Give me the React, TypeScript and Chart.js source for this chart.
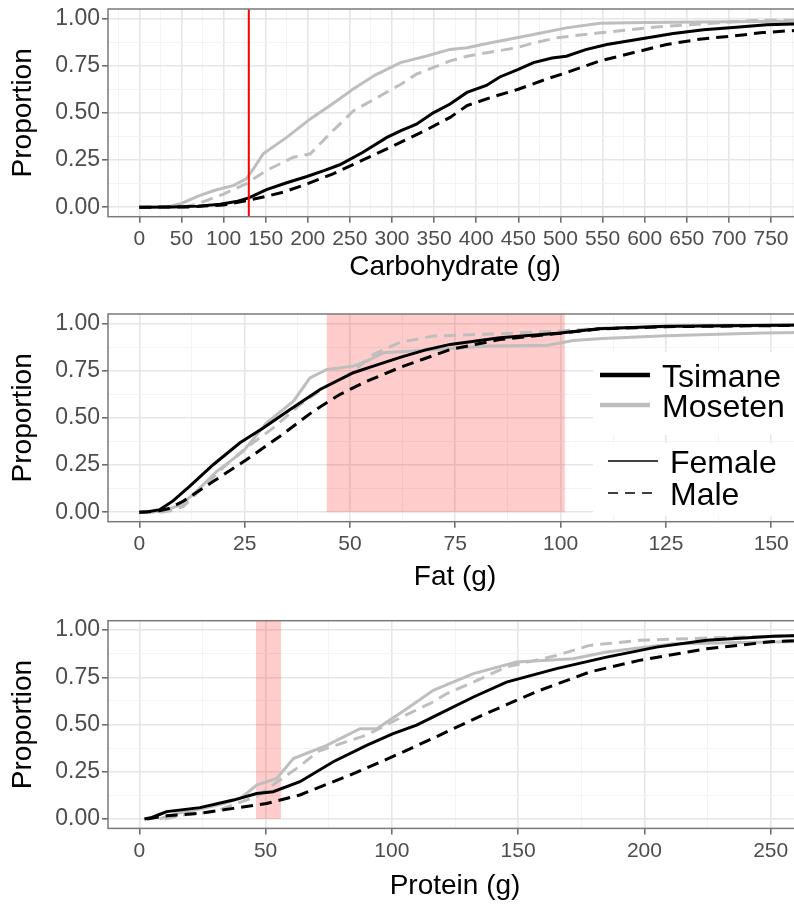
import React, { useEffect, useRef } from "react";
import { Chart, registerables } from "chart.js";
Chart.register(...registerables);

// ---------------- data (x in grams, y = cumulative proportion) ----------------
const carbTsimaneFemale = [[0,0],[40,0.002],[70,0.006],[96,0.016],[115,0.03],[130,0.05],[151,0.093],[175,0.13],[199,0.163],[220,0.195],[238,0.225],[265,0.29],[294,0.37],[310,0.405],[329,0.44],[349,0.5],[369,0.547],[389,0.608],[412,0.645],[428,0.69],[450,0.73],[468,0.766],[490,0.79],[507,0.8],[530,0.835],[555,0.862],[600,0.895],[634,0.92],[670,0.94],[705,0.952],[745,0.966],[790,0.972]];
const carbTsimaneMale = [[0,0],[60,0.002],[100,0.012],[129,0.037],[150,0.057],[171,0.08],[200,0.125],[230,0.177],[265,0.25],[298,0.318],[310,0.344],[341,0.41],[369,0.476],[389,0.538],[420,0.585],[450,0.625],[484,0.68],[507,0.713],[547,0.775],[586,0.818],[626,0.862],[665,0.89],[705,0.907],[740,0.925],[790,0.94]];
const carbMosetenFemale = [[32,0],[50,0.02],[72,0.063],[90,0.09],[112,0.116],[127,0.15],[135,0.2],[147,0.283],[175,0.37],[203,0.468],[230,0.55],[254,0.626],[280,0.7],[310,0.766],[340,0.8],[369,0.836],[389,0.845],[416,0.87],[468,0.915],[507,0.95],[547,0.975],[600,0.978],[700,0.982],[790,0.985]];
const carbMosetenMale = [[52,0],[70,0.02],[100,0.07],[127,0.125],[151,0.195],[183,0.265],[203,0.283],[230,0.406],[254,0.51],[290,0.6],[310,0.65],[329,0.705],[369,0.775],[389,0.8],[448,0.845],[468,0.87],[496,0.898],[547,0.924],[614,0.955],[680,0.975],[733,0.99],[790,0.99]];

const fatTsimaneFemale = [[0,0],[2,0.003],[4.9,0.014],[8,0.06],[12,0.138],[17.6,0.253],[23.9,0.368],[29.5,0.447],[35.8,0.544],[42.9,0.65],[50.8,0.739],[55,0.77],[61.9,0.82],[68,0.86],[73.8,0.889],[85.6,0.924],[100,0.95],[109,0.972],[125,0.985],[158,0.992]];
const fatTsimaneMale = [[0,0],[4,0.003],[7,0.02],[10.4,0.058],[17.6,0.164],[25.5,0.279],[33.4,0.403],[41.3,0.535],[47.6,0.624],[54,0.694],[61.9,0.767],[73.8,0.862],[85.6,0.915],[100,0.948],[109,0.97],[125,0.983],[158,0.99]];
const fatMosetenFemale = [[3,0],[6,0.01],[10,0.04],[14,0.12],[18.4,0.217],[24.7,0.323],[30.2,0.474],[36.6,0.588],[40.5,0.712],[44.5,0.756],[50.8,0.774],[54,0.8],[58,0.845],[62,0.85],[72,0.865],[83,0.88],[97,0.885],[103,0.91],[110,0.92],[125,0.935],[148,0.95],[158,0.952]];
const fatMosetenMale = [[5,0],[8,0.01],[10.4,0.03],[15,0.13],[20.7,0.253],[25.5,0.343],[31.8,0.447],[38.2,0.571],[44.5,0.668],[49.2,0.72],[55.6,0.836],[61.9,0.9],[69.8,0.933],[85,0.945],[100,0.96],[110,0.975],[130,0.985],[158,0.99]];

const proteinTsimaneFemale = [[2,0],[5,0.008],[8.2,0.025],[10.8,0.039],[24,0.06],[37.2,0.1],[46.5,0.135],[53,0.144],[63.6,0.197],[76.8,0.303],[90,0.39],[100.5,0.452],[109.8,0.497],[119,0.558],[132.3,0.646],[145.4,0.725],[165.2,0.796],[185,0.857],[204.8,0.91],[224.6,0.946],[251,0.968],[263,0.972]];
const proteinTsimaneMale = [[3,0],[10.8,0.017],[24,0.03],[37.2,0.056],[50.4,0.082],[63.6,0.127],[83.4,0.232],[103.2,0.347],[119,0.444],[123,0.47],[138.8,0.567],[158.6,0.681],[178.3,0.778],[198,0.84],[224.6,0.901],[251,0.94],[263,0.945]];
const proteinMosetenFemale = [[8,0],[15,0.03],[25,0.055],[33,0.08],[40,0.109],[46.5,0.18],[54.4,0.214],[61,0.32],[74.2,0.39],[87.4,0.478],[94,0.478],[105.9,0.584],[116.4,0.681],[132.3,0.77],[149.4,0.831],[171.8,0.848],[185,0.884],[211.4,0.928],[251,0.937],[263,0.94]];
const proteinMosetenMale = [[10,0],[17,0.02],[30,0.04],[46.5,0.12],[55,0.2],[63.6,0.28],[71,0.36],[80,0.4],[90,0.444],[103.2,0.535],[116.4,0.62],[121.6,0.663],[132.3,0.725],[145.4,0.805],[165.2,0.866],[178.3,0.919],[198,0.946],[224.6,0.958],[251,0.968],[263,0.972]];

const groupLabels = ["Tsimane", "Moseten"];
const sexLabels = ["Female", "Male"];

const yMajor = [0, 0.25, 0.5, 0.75, 1];
const yMinor = [0.125, 0.375, 0.625, 0.875];
const carbMajor = [0, 50, 100, 150, 200, 250, 300, 350, 400, 450, 500, 550, 600, 650, 700, 750];
const carbMinor = [-25, 25, 75, 125, 175, 225, 275, 325, 375, 425, 475, 525, 575, 625, 675, 725, 775];
const fatMajor = [0, 25, 50, 75, 100, 125, 150];
const fatMinor = [12.5, 37.5, 62.5, 87.5, 112.5, 137.5];
const proteinMajor = [0, 50, 100, 150, 200, 250];
const proteinMinor = [25, 75, 125, 175, 225];

const carbRange = [-37.2, 786.8];
const fatRange = [-7.43, 157.3];
const proteinRange = [-12.4, 262.4];
const yRange = [-0.05, 1.05];

const carbCutoff = 130;
const fatBand = [44.5, 101];
const proteinBand = [46.2, 56.1];

// ---------------- styling ----------------
const FONT = "'Liberation Sans', Arial, Helvetica, sans-serif";
const BLACK = "#000000";
const GREY = "#bebebe";
const DASH = [12, 7];
const MAJOR_GRID = "#e6e6e6";
const MINOR_GRID = "#f3f3f3";
const CANVAS_W = 802;

const decorPlugin = {
  id: "decor",
  beforeDatasetsDraw(chart: any, _a: any, opts: any) {
    const { ctx, chartArea, scales } = chart;
    if (opts.band) {
      const x0 = scales.x.getPixelForValue(opts.band[0]);
      const x1 = scales.x.getPixelForValue(opts.band[1]);
      const y0 = scales.y.getPixelForValue(0);
      ctx.save();
      ctx.fillStyle = "rgba(255,0,0,0.2)";
      ctx.fillRect(x0, chartArea.top, x1 - x0, y0 - chartArea.top);
      ctx.restore();
    }
  },
  afterDatasetsDraw(chart: any, _a: any, opts: any) {
    const { ctx, chartArea, scales } = chart;
    ctx.save();
    if (opts.vline !== undefined) {
      const xv = scales.x.getPixelForValue(opts.vline);
      ctx.strokeStyle = "#ff0000";
      ctx.lineWidth = 2;
      ctx.beginPath();
      ctx.moveTo(xv, chartArea.top);
      ctx.lineTo(xv, chartArea.bottom);
      ctx.stroke();
    }
    // panel border
    ctx.strokeStyle = "#7a7a7a";
    ctx.lineWidth = 1.5;
    ctx.strokeRect(chartArea.left, chartArea.top, chartArea.right - chartArea.left + 10, chartArea.bottom - chartArea.top);

    if (opts.legend) {
      const t = chartArea.top;
      ctx.fillStyle = "#ffffff";
      ctx.fillRect(593, t + 38, 220, 83);
      ctx.fillRect(593, t + 129, 220, 73);
      ctx.font = `32px ${FONT}`;
      ctx.textBaseline = "alphabetic";
      ctx.textAlign = "left";
      const rows = [
        { y: t + 61, lbl: groupLabels[0], color: BLACK },
        { y: t + 91, lbl: groupLabels[1], color: GREY },
      ];
      rows.forEach((r) => {
        ctx.strokeStyle = r.color;
        ctx.lineWidth = 4.5;
        ctx.setLineDash([]);
        ctx.beginPath();
        ctx.moveTo(600, r.y);
        ctx.lineTo(650, r.y);
        ctx.stroke();
        ctx.fillStyle = "#000";
        ctx.fillText(r.lbl, 662, r.y + 11.5);
      });
      const rows2 = [
        { y: t + 147, lbl: sexLabels[0], dash: [] as number[] },
        { y: t + 179, lbl: sexLabels[1], dash: [10, 7] },
      ];
      rows2.forEach((r) => {
        ctx.strokeStyle = "#000";
        ctx.lineWidth = 1.6;
        ctx.setLineDash(r.dash);
        ctx.beginPath();
        ctx.moveTo(608, r.y);
        ctx.lineTo(658, r.y);
        ctx.stroke();
        ctx.setLineDash([]);
        ctx.fillStyle = "#000";
        ctx.fillText(r.lbl, 670, r.y + 11.5);
      });
    }
    ctx.restore();
  },
};

type PanelCfg = {
  top: number;
  height: number;
  padTop: number;
  xTitle: string;
  titlePadBottom: number;
  range: number[];
  major: number[];
  minor: number[];
  series: number[][][];
  band?: number[];
  vline?: number;
  legend?: boolean;
};

const CHART_H = 207.7;

function Panel({ cfg }: { cfg: PanelCfg }) {
  const ref = useRef<HTMLCanvasElement>(null);
  useEffect(() => {
    const names = ["Tsimane Female", "Tsimane Male", "Moseten Female", "Moseten Male"];
    const colors = [BLACK, BLACK, GREY, GREY];
    const dashes = [[], DASH, [], DASH];
    const datasets = cfg.series.map((s, i) => ({
      label: names[i],
      data: s.map((p) => ({ x: p[0], y: p[1] })),
      showLine: true,
      borderColor: colors[i],
      backgroundColor: colors[i],
      borderWidth: 3,
      borderDash: dashes[i],
      pointRadius: 0,
      tension: 0,
      fill: false,
    }));
    const xAll = [...cfg.major, ...cfg.minor].sort((a, b) => a - b);
    const yAll = [...yMajor, ...yMinor].sort((a, b) => a - b);
    const zeroPad = (s: any) => {
      s.paddingTop = 0;
      s.paddingBottom = 0;
      s.paddingLeft = 0;
      s.paddingRight = 0;
    };
    const chart = new Chart(ref.current!, {
      type: "scatter",
      data: { datasets },
      plugins: [decorPlugin],
      options: {
        animation: false,
        responsive: false,
        devicePixelRatio: 1,
        layout: { padding: { top: cfg.padTop, left: 0, right: 0, bottom: 0 } },
        plugins: {
          legend: { display: false },
          tooltip: { enabled: false },
          decor: { band: cfg.band, vline: cfg.vline, legend: cfg.legend },
        } as any,
        scales: {
          x: {
            type: "linear",
            min: cfg.range[0],
            max: cfg.range[1],
            afterBuildTicks: (s: any) => {
              s.ticks = xAll.map((v) => ({ value: v }));
            },
            afterFit: (s: any) => {
              s.height = cfg.height - cfg.padTop - CHART_H;
              zeroPad(s);
            },
            border: { display: false },
            grid: {
              color: (c: any) => (cfg.major.includes(c.tick?.value) ? MAJOR_GRID : MINOR_GRID),
              lineWidth: (c: any) => (cfg.major.includes(c.tick?.value) ? 1.6 : 1),
              tickColor: (c: any) => (cfg.major.includes(c.tick?.value) ? "#666666" : "rgba(0,0,0,0)"),
              tickLength: 6,
              tickWidth: 1.5,
            },
            ticks: {
              autoSkip: false,
              maxRotation: 0,
              padding: 4,
              color: "#4d4d4d",
              font: { family: FONT, size: 21 },
              callback: (v: any) => (cfg.major.includes(v) ? String(v) : ""),
            },
            title: {
              display: true,
              text: cfg.xTitle,
              color: "#000",
              font: { family: FONT, size: 28 },
              padding: { top: 0, bottom: cfg.titlePadBottom },
            },
          },
          y: {
            type: "linear",
            min: yRange[0],
            max: yRange[1],
            afterBuildTicks: (s: any) => {
              s.ticks = yAll.map((v) => ({ value: v }));
            },
            afterFit: (s: any) => {
              s.width = 108;
              zeroPad(s);
            },
            border: { display: false },
            grid: {
              color: (c: any) => (yMajor.includes(c.tick?.value) ? MAJOR_GRID : MINOR_GRID),
              lineWidth: (c: any) => (yMajor.includes(c.tick?.value) ? 1.6 : 1),
              tickColor: (c: any) => (yMajor.includes(c.tick?.value) ? "#666666" : "rgba(0,0,0,0)"),
              tickLength: 6,
              tickWidth: 1.5,
            },
            ticks: {
              autoSkip: false,
              padding: 2,
              color: "#4d4d4d",
              font: { family: FONT, size: 23 },
              callback: (v: any) => (yMajor.includes(v) ? Number(v).toFixed(2) : ""),
            },
            title: {
              display: true,
              text: "Proportion",
              color: "#000",
              font: { family: FONT, size: 28 },
              padding: { top: 6, bottom: 0 },
            },
          },
        },
      } as any,
    });
    return () => chart.destroy();
  }, []);
  return (
    <canvas
      ref={ref}
      width={CANVAS_W}
      height={cfg.height}
      style={{ position: "absolute", left: 0, top: cfg.top, width: CANVAS_W, height: cfg.height }}
    />
  );
}

const panels: PanelCfg[] = [
  {
    top: 0, height: 300, padTop: 9, xTitle: "Carbohydrate (g)", titlePadBottom: 15.8,
    range: carbRange, major: carbMajor, minor: carbMinor,
    series: [carbTsimaneFemale, carbTsimaneMale, carbMosetenFemale, carbMosetenMale],
    vline: carbCutoff,
  },
  {
    top: 305, height: 300, padTop: 9, xTitle: "Fat (g)", titlePadBottom: 10.8,
    range: fatRange, major: fatMajor, minor: fatMinor,
    series: [fatTsimaneFemale, fatTsimaneMale, fatMosetenFemale, fatMosetenMale],
    band: fatBand, legend: true,
  },
  {
    top: 612, height: 293, padTop: 8.7, xTitle: "Protein (g)", titlePadBottom: 2.1,
    range: proteinRange, major: proteinMajor, minor: proteinMinor,
    series: [proteinTsimaneFemale, proteinTsimaneMale, proteinMosetenFemale, proteinMosetenMale],
    band: proteinBand,
  },
];

export default function App() {
  return (
    <div
      style={{
        position: "fixed", left: 0, top: 0, width: 794, height: 905,
        overflow: "hidden", background: "#ffffff",
      }}
    >
      {panels.map((p, i) => (
        <Panel key={i} cfg={p} />
      ))}
    </div>
  );
}
